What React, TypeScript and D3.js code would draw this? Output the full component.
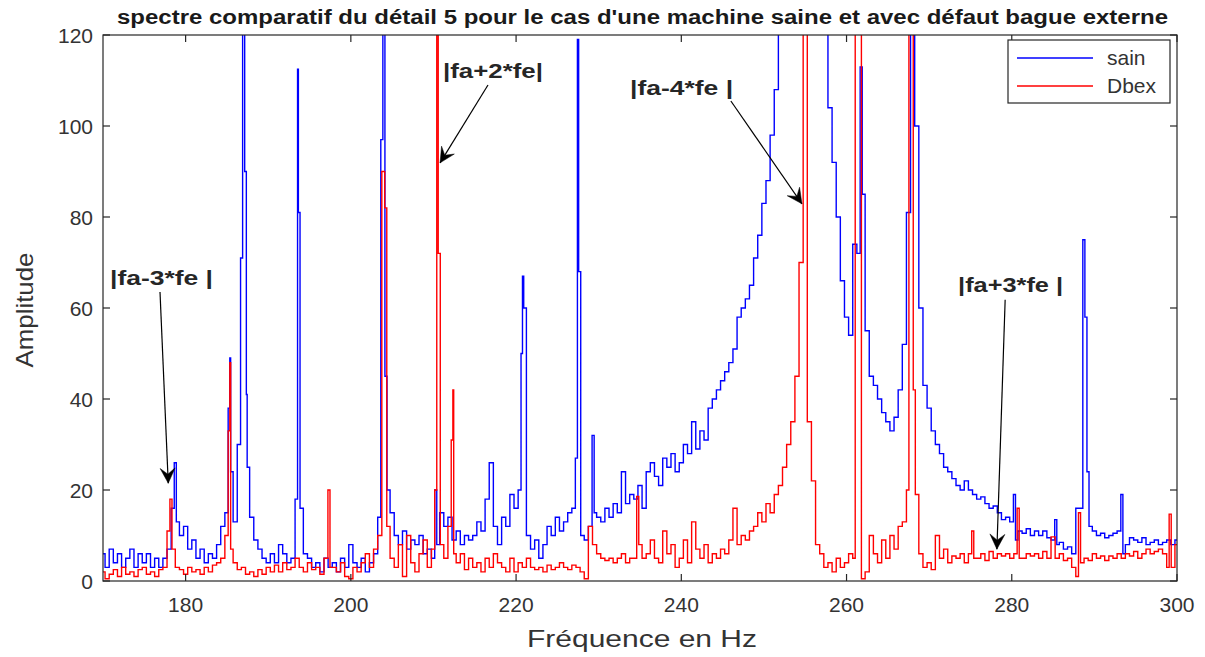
import React from 'react';
import * as d3 from 'd3';

// ---- Data ----
const FREQ_START = 170;
const FREQ_STEP = 0.5;

// "sain" amplitude, one value every 0.5 Hz from 170 to 300 Hz
const sainGrid: number[] = [
  6, 3, 7, 4, 6, 3, 5, 7, 3, 6, // 170
  4, 6, 3, 5, 3, 5, 7, 16, 13, 10, // 175
  12, 7, 9, 5, 7, 4, 6, 5, 8, 12, // 180
  15, 24, 13, 30, 300, 25, 14, 9, 7, 5, // 185
  4, 6, 4, 8, 6, 4, 5, 18, 16, 6, // 190
  5, 3, 4, 2, 5, 3, 4, 2, 5, 3, // 195
  8, 4, 3, 5, 2, 4, 6, 14, 300, 20, // 200
  15, 10, 8, 11, 7, 9, 8, 10, 6, 7, // 205
  5, 8, 15, 12, 14, 9, 11, 8, 10, 9, // 210
  10, 13, 11, 18, 26, 12, 8, 14, 12, 19, // 215
  16, 20, 60, 10, 7, 9, 5, 8, 12, 10, // 220
  14, 11, 13, 15, 16, 119, 10, 9, 12, 15, // 225
  14, 13, 16, 14, 17, 15, 24, 17, 19, 18, // 230
  21, 16, 24, 26, 23, 21, 27, 25, 28, 24, // 235
  26, 30, 28, 35, 29, 33, 31, 38, 40, 42, // 240
  44, 46, 48, 51, 58, 60, 62, 65, 71, 76, // 245
  83, 88, 98, 108, 135, 160, 190, 220, 260, 300, // 250
  320, 300, 250, 200, 160, 125, 104, 92, 80, 66, // 255
  58, 54, 74, 72, 85, 55, 45, 43, 40, 37, // 260
  35, 33, 36, 42, 52, 81, 300, 100, 60, 43, // 265
  38, 33, 30, 28, 25, 24, 22.5, 21, 20, 22, // 270
  20, 19, 18, 18.5, 17, 16, 16.5, 15, 13.5, 14, // 275
  13, 9, 11, 10.5, 11.5, 10, 11, 10, 11, 9.5, // 280
  9, 8, 8.5, 7, 7.5, 6, 16, 16, 58, 12, // 285
  11, 10, 10.5, 9.5, 10, 10.5, 11, 6, 8, 9.5, // 290
  9, 8.5, 9.5, 8, 8.5, 9, 8, 8.5, 9, 8, // 295
  9, // 300
];

// "Dbex" amplitude, one value every 0.5 Hz from 170 to 300 Hz
const dbexGrid: number[] = [
  2, 0.5, 1.5, 2.5, 1, 3, 1.5, 2, 1, 2.5, // 170
  3, 1.5, 2, 1, 2.5, 3, 11, 7, 3, 2.5, // 175
  1.5, 3, 2, 2.5, 1.5, 3, 2, 3.5, 4, 5, // 180
  10, 7, 4, 2.5, 3, 1.5, 2, 1, 2.5, 1.5, // 185
  3, 2, 3.5, 2, 4, 2.5, 3, 5, 3, 2, // 190
  4, 2.5, 3, 1.5, 5, 3, 3, 2, 4, 1, // 195
  0.5, 3, 2, 4, 6, 3, 7, 10, 90, 12, // 200
  5, 3, 8, 1, 10, 4, 2, 6, 9, 3, // 205
  7, 400, 8, 5, 12, 6, 4, 6, 2.5, 5, // 210
  3, 4, 2, 5, 3, 6, 4, 3, 2, 5, // 215
  2, 4, 3, 5, 3, 2.5, 3, 2, 3.5, 2.5, // 220
  3, 4, 3, 2.5, 3.5, 3, 2, 0.5, 12, 8, // 225
  6, 5, 4.5, 5, 4, 5, 6, 4, 5, 5, // 230
  8, 5, 6, 9, 5, 4, 11, 6, 8, 3, // 235
  5, 9, 4, 13, 7, 5, 8, 4, 6, 5, // 240
  7, 6, 9, 16, 8, 10, 9, 11, 12, 15, // 245
  13, 17, 15, 19, 21, 25, 30, 35, 45, 70, // 250
  400, 35, 22, 8, 6, 3, 4, 2, 5, 3, // 255
  4, 6, 5, 500, 0.5, 2, 10, 6, 4, 9, // 260
  5, 10, 7, 12, 13, 20, 400, 19, 6, 3, // 265
  4, 2.5, 10, 5, 7, 4, 5.5, 5, 6, 4, // 270
  6, 5, 5, 6, 4.5, 6.5, 5, 6, 5.5, 6, // 275
  5, 6, 5, 5, 6, 5.5, 6, 5, 6.5, 5, // 280
  9.7, 5, 6, 4.5, 5, 3, 1, 4, 5, 4.5, // 285
  6, 5, 5.5, 4.5, 5.5, 5, 6, 5, 6, 5.5, // 290
  6.5, 5, 6, 7, 6, 6.5, 7, 6, 3, 3, // 295
  8, // 300
];

// narrow lines between the 0.5 Hz samples: [frequency, amplitude]
const sainSpikes: [number, number][] = [
  [178.75, 26], [185.3, 38], [185.4, 49], [186.8, 71], [187.3, 90], [187.4, 41],
  [193.6, 112.5], [193.7, 81], [203.75, 97], [204.25, 45], [210.3, 20],
  [220.7, 50], [220.85, 67], [227.35, 27], [227.65, 68], [229.4, 32],
  [261.8, 113], [280.4, 19], [285.4, 13.5], [288.7, 75], [289.2, 24], [293.4, 19],
];
const dbexSpikes: [number, number][] = [
  [178.2, 18], [185.3, 33], [185.4, 48], [197.45, 20], [204.2, 82],
  [210.3, 20], [210.65, 72], [212.3, 31], [212.4, 42], [234.7, 18.6],
  [261.1, 500], [261.6, 500], [267.6, 400], [268.15, 42], [275.3, 11],
  [280.8, 16], [288.15, 15], [299.1, 14.7],
];

const xTicks = [180, 200, 220, 240, 260, 280, 300];
const yTicks = [0, 20, 40, 60, 80, 100, 120];
const xDomain = [170, 300];
const yDomain = [0, 120];

const seriesNames = ['sain', 'Dbex'];
const seriesColors = ['#0000ff', '#ff0000'];

const TITLE = "spectre comparatif du détail 5 pour le cas d'une machine saine et avec défaut bague externe";
const X_LABEL = 'Fréquence en Hz';
const Y_LABEL = 'Amplitude';

// annotations in data coordinates: text anchor, arrow start, arrow tip; w = text width in px
const annotations = [
  { text: '|fa-3*fe |', tf: 170.85, ta: 65, w: 103, f0: 176.9, a0: 63.5, f1: 177.9, a1: 21.5 },
  { text: '|fa+2*fe|', tf: 211.15, ta: 110.5, w: 100, f0: 216.6, a0: 109, f1: 210.8, a1: 91.9 },
  { text: '|fa-4*fe |', tf: 233.8, ta: 106.8, w: 103, f0: 246.0, a0: 105.5, f1: 254.6, a1: 82.9 },
  { text: '|fa+3*fe |', tf: 273.5, ta: 63.5, w: 105, f0: 279.2, a0: 61.8, f1: 278.2, a1: 7.0 },
];

const FONT = "'Liberation Sans', Arial, Helvetica, sans-serif";
const AXIS_COLOR = '#262626';

function buildSeries(grid: number[], spikes: [number, number][]): [number, number][] {
  const pts: [number, number][] = grid.map((v, i) => [FREQ_START + i * FREQ_STEP, v]);
  return pts.concat(spikes).sort((a, b) => a[0] - b[0]);
}

export default function App() {
  const W = 1205;
  const H = 657;
  const plot = { left: 103, right: 1177, top: 35, bottom: 581 };

  const x = d3.scaleLinear().domain(xDomain).range([plot.left, plot.right]);
  const y = d3.scaleLinear().domain(yDomain).range([plot.bottom, plot.top]);

  const line = d3
    .line<[number, number]>()
    .x((d) => x(d[0]))
    .y((d) => y(d[1]))
    .curve(d3.curveStep);

  const series = [buildSeries(sainGrid, sainSpikes), buildSeries(dbexGrid, dbexSpikes)];

  const tickLen = 7;

  const arrowHead = (x0: number, y0: number, x1: number, y1: number) => {
    const dx = x1 - x0;
    const dy = y1 - y0;
    const len = Math.hypot(dx, dy);
    const ux = dx / len;
    const uy = dy / len;
    const nx = -uy;
    const ny = ux;
    const L = 15;
    const Wd = 7.5;
    const bx = x1 - ux * L;
    const by = y1 - uy * L;
    const notchX = x1 - ux * L * 0.6;
    const notchY = y1 - uy * L * 0.6;
    return `M${x1},${y1}L${bx + nx * Wd},${by + ny * Wd}L${notchX},${notchY}L${bx - nx * Wd},${by - ny * Wd}Z`;
  };

  const legend = { x: 1008, y: 40, w: 162, h: 63 };

  return (
    <svg
      width={W}
      height={H}
      viewBox={`0 0 ${W} ${H}`}
      style={{ position: 'absolute', left: 0, top: 0, display: 'block', background: '#fff' }}
    >
      <rect x={0} y={0} width={W} height={H} fill="#ffffff" />
      <defs>
        <clipPath id="plotClip">
          <rect x={plot.left} y={plot.top} width={plot.right - plot.left} height={plot.bottom - plot.top} />
        </clipPath>
      </defs>

      {/* series */}
      <g clipPath="url(#plotClip)">
        {series.map((s, i) => (
          <path
            key={seriesNames[i]}
            d={line(s) || ''}
            fill="none"
            stroke={seriesColors[i]}
            strokeWidth={1.4}
            strokeLinejoin="miter"
          />
        ))}
      </g>

      {/* axes box */}
      <rect
        x={plot.left}
        y={plot.top}
        width={plot.right - plot.left}
        height={plot.bottom - plot.top}
        fill="none"
        stroke={AXIS_COLOR}
        strokeWidth={1.2}
      />

      {/* x ticks */}
      {xTicks.map((t) => (
        <g key={'xt' + t}>
          <line x1={x(t)} x2={x(t)} y1={plot.bottom} y2={plot.bottom - tickLen} stroke={AXIS_COLOR} strokeWidth={1.2} />
          <line x1={x(t)} x2={x(t)} y1={plot.top} y2={plot.top + tickLen} stroke={AXIS_COLOR} strokeWidth={1.2} />
          <text x={x(t)} y={plot.bottom + 31} textAnchor="middle" fontFamily={FONT} fontSize={21} fill="#333">
            {t}
          </text>
        </g>
      ))}

      {/* y ticks */}
      {yTicks.map((t) => (
        <g key={'yt' + t}>
          <line x1={plot.left} x2={plot.left + tickLen} y1={y(t)} y2={y(t)} stroke={AXIS_COLOR} strokeWidth={1.2} />
          <line x1={plot.right} x2={plot.right - tickLen} y1={y(t)} y2={y(t)} stroke={AXIS_COLOR} strokeWidth={1.2} />
          <text x={plot.left - 10} y={y(t) + 7.5} textAnchor="end" fontFamily={FONT} fontSize={21} fill="#333">
            {t}
          </text>
        </g>
      ))}

      {/* axis labels */}
      <text
        x={642}
        y={647}
        textAnchor="middle"
        fontFamily={FONT}
        fontSize={24}
        fill="#333"
        textLength={230}
        lengthAdjust="spacingAndGlyphs"
      >
        {X_LABEL}
      </text>
      <text
        transform={`translate(33,${310}) rotate(-90)`}
        textAnchor="middle"
        fontFamily={FONT}
        fontSize={24}
        fill="#333"
        textLength={115}
        lengthAdjust="spacingAndGlyphs"
      >
        {Y_LABEL}
      </text>

      {/* title */}
      <text
        x={117}
        y={24}
        fontFamily={FONT}
        fontSize={20}
        fontWeight="bold"
        fill="#1a1a1a"
        textLength={1051}
        lengthAdjust="spacingAndGlyphs"
      >
        {TITLE}
      </text>

      {/* annotations */}
      {annotations.map((a) => {
        const x0 = x(a.f0);
        const y0 = y(a.a0);
        const x1 = x(a.f1);
        const y1 = y(a.a1);
        return (
          <g key={a.text}>
            <text
              x={x(a.tf)}
              y={y(a.ta)}
              fontFamily={FONT}
              fontSize={21}
              fontWeight="bold"
              fill="#262626"
              textLength={a.w}
              lengthAdjust="spacingAndGlyphs"
            >
              {a.text}
            </text>
            <line x1={x0} y1={y0} x2={x1} y2={y1} stroke="#000" strokeWidth={1.2} />
            <path d={arrowHead(x0, y0, x1, y1)} fill="#000" stroke="#000" strokeWidth={0.5} />
          </g>
        );
      })}

      {/* legend */}
      <g>
        <rect x={legend.x} y={legend.y} width={legend.w} height={legend.h} fill="#fff" stroke={AXIS_COLOR} strokeWidth={1.2} />
        {seriesNames.map((n, i) => {
          const ly = legend.y + 18 + i * 28;
          return (
            <g key={'lg' + n}>
              <line x1={legend.x + 9} x2={legend.x + 85} y1={ly} y2={ly} stroke={seriesColors[i]} strokeWidth={1.4} />
              <text x={legend.x + 99} y={ly + 7} fontFamily={FONT} fontSize={21} fill="#333">
                {n}
              </text>
            </g>
          );
        })}
      </g>
    </svg>
  );
}
